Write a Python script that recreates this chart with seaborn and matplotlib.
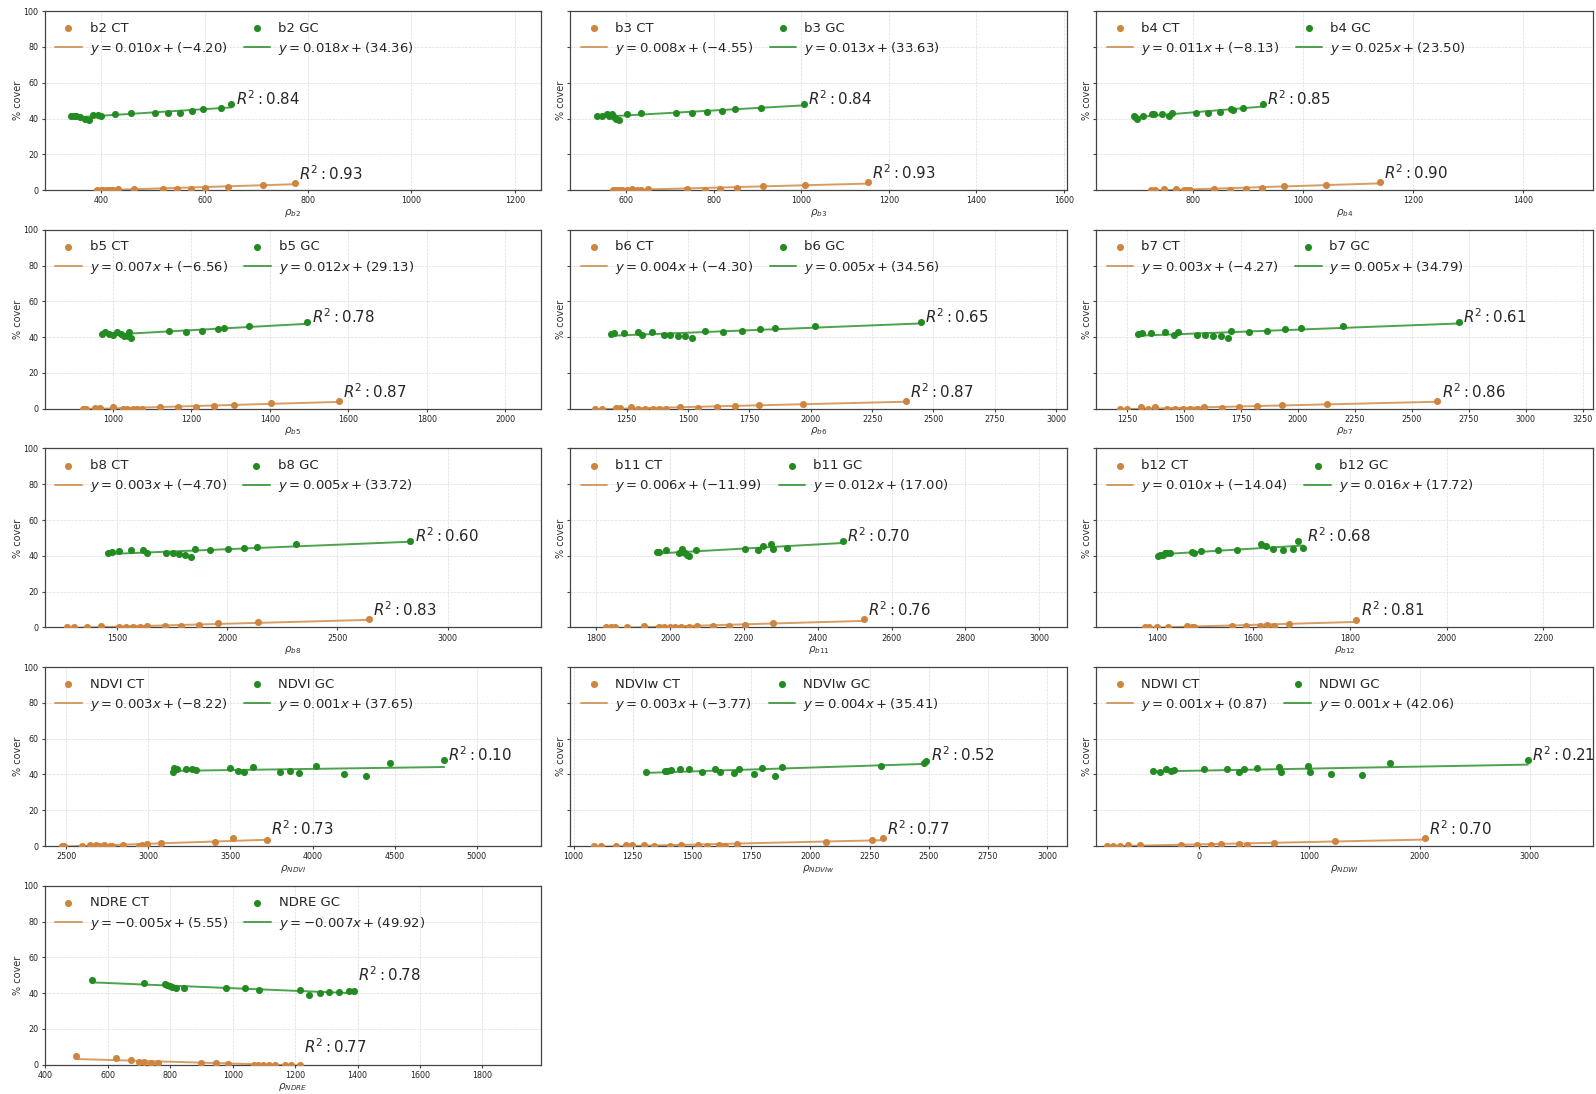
import numpy as np
import pandas as pd
import matplotlib
matplotlib.use("Agg")
import matplotlib.pyplot as plt
import seaborn as sns
from matplotlib.ticker import MultipleLocator

# ---------------- data ----------------
b2_ct_x = [393, 399, 404, 411, 418, 424, 432, 463, 520, 547, 573, 600, 645, 714, 775]
b2_ct_y = [0.1, 0.2, 0.1, 0.3, 0.2, 0.1, 0.5, 0.4, 0.8, 0.5, 0.8, 1.1, 2.0, 3.0, 4.1]
b2_gc_x = [341, 347, 351, 360, 368, 377, 385, 394, 400, 427, 458, 505, 529, 552, 576, 598, 632, 652]
b2_gc_y = [41.2, 41.2, 41.2, 40.8, 40.0, 39.2, 42.1, 42.1, 41.4, 42.5, 43.0, 43.0, 43.0, 43.3, 44.2, 45.1, 45.8, 48.1]

b3_ct_x = [570, 576, 583, 590, 603, 613, 624, 633, 649, 740, 780, 814, 853, 913, 1008, 1153]
b3_ct_y = [0.1, 0.1, 0.2, 0.1, 0.2, 0.4, 0.2, 0.3, 0.5, 0.8, 0.3, 0.6, 1.2, 2.1, 3.0, 4.3]
b3_gc_x = [534, 546, 556, 562, 568, 572, 578, 584, 603, 635, 715, 751, 785, 820, 848, 909, 1006]
b3_gc_y = [41.3, 41.3, 42.3, 41.5, 42.3, 40.8, 40.0, 39.3, 42.6, 43.2, 43.2, 43.2, 43.6, 44.3, 45.3, 46.0, 48.2]

b4_ct_x = [725, 732, 747, 770, 785, 790, 795, 839, 868, 896, 925, 966, 1042, 1140]
b4_ct_y = [0.1, 0.1, 0.4, 0.4, 0.2, 0.2, 0.1, 0.8, 0.3, 0.8, 1.2, 2.1, 3.0, 4.3]
b4_gc_x = [693, 696, 699, 709, 726, 729, 744, 757, 762, 806, 827, 850, 869, 873, 891, 927]
b4_gc_y = [41.3, 40.8, 39.5, 41.3, 42.3, 42.3, 42.6, 41.3, 43.0, 43.2, 43.2, 43.6, 45.3, 44.5, 46.0, 48.2]

b5_ct_x = [924, 931, 955, 966, 999, 1026, 1037, 1050, 1061, 1075, 1121, 1166, 1212, 1257, 1308, 1404, 1577]
b5_ct_y = [0.1, 0.1, 0.2, 0.5, 1.0, 0.1, 0.1, 0.1, 0.1, 0.1, 0.9, 0.7, 1.0, 1.7, 2.3, 3.0, 4.3]
b5_gc_x = [971, 981, 991, 1001, 1011, 1020, 1028, 1039, 1042, 1046, 1143, 1186, 1226, 1268, 1284, 1348, 1496]
b5_gc_y = [42.0, 43.0, 41.5, 41.1, 43.0, 41.9, 40.9, 40.9, 43.0, 39.6, 43.3, 43.0, 43.5, 44.3, 45.0, 46.3, 48.2]

b6_ct_x = [1120, 1148, 1205, 1222, 1268, 1297, 1325, 1356, 1380, 1410, 1467, 1542, 1618, 1693, 1789, 1968, 2387]
b6_ct_y = [0.1, 0.1, 0.5, 0.2, 0.8, 0.1, 0.1, 0.1, 0.1, 0.1, 0.8, 0.5, 0.7, 1.6, 2.2, 2.9, 4.2]
b6_gc_x = [1188, 1200, 1239, 1295, 1314, 1353, 1401, 1428, 1457, 1488, 1516, 1568, 1642, 1719, 1794, 1854, 2016, 2449]
b6_gc_y = [41.5, 42.2, 42.6, 43.0, 41.1, 43.0, 41.1, 41.1, 40.9, 40.4, 39.6, 43.3, 43.0, 43.3, 44.3, 45.0, 46.5, 48.2]

b7_ct_x = [1218, 1250, 1313, 1341, 1374, 1428, 1462, 1495, 1527, 1559, 1589, 1666, 1743, 1819, 1929, 2129, 2612]
b7_ct_y = [0.1, 0.1, 0.8, 0.1, 0.8, 0.1, 0.1, 0.1, 0.1, 0.1, 0.8, 0.3, 0.7, 1.5, 2.0, 2.8, 4.3]
b7_gc_x = [1298, 1316, 1355, 1418, 1457, 1476, 1559, 1594, 1629, 1663, 1695, 1708, 1786, 1866, 1943, 2012, 2199, 2705]
b7_gc_y = [41.5, 42.2, 42.6, 43.0, 41.1, 43.0, 41.1, 41.1, 40.9, 40.4, 39.6, 43.3, 43.0, 43.3, 44.3, 45.0, 46.5, 48.2]

b8_ct_x = [1275, 1304, 1362, 1426, 1510, 1540, 1573, 1604, 1636, 1717, 1790, 1872, 1959, 2141, 2644]
b8_ct_y = [0.1, 0.2, 0.3, 0.8, 0.1, 0.1, 0.1, 0.1, 0.8, 0.6, 1.0, 1.5, 2.3, 2.8, 4.5]
b8_gc_x = [1460, 1476, 1510, 1565, 1619, 1635, 1720, 1753, 1782, 1810, 1836, 1853, 1924, 2003, 2074, 2133, 2312, 2831]
b8_gc_y = [41.7, 42.2, 42.6, 43.2, 43.2, 41.3, 41.3, 41.3, 41.1, 40.6, 39.4, 43.6, 43.2, 43.6, 44.5, 45.2, 46.5, 48.4]

b11_ct_x = [1827, 1839, 1851, 1884, 1928, 1970, 1984, 2000, 2014, 2029, 2050, 2073, 2116, 2159, 2204, 2279, 2524]
b11_ct_y = [0.1, 0.1, 0.1, 0.2, 0.8, 0.1, 0.1, 0.1, 0.1, 0.1, 0.2, 0.8, 0.6, 0.9, 1.6, 2.7, 4.5]
b11_gc_x = [1965, 1970, 1989, 2024, 2031, 2036, 2040, 2046, 2050, 2070, 2202, 2239, 2251, 2272, 2279, 2316, 2468]
b11_gc_y = [42.2, 42.2, 43.0, 41.7, 43.6, 42.1, 41.3, 40.7, 39.8, 43.2, 43.7, 43.2, 45.4, 46.7, 43.7, 44.5, 48.4]

b12_ct_x = [1376, 1385, 1401, 1424, 1462, 1472, 1477, 1555, 1584, 1613, 1629, 1642, 1674, 1813]
b12_ct_y = [0.1, 0.3, 0.1, 0.3, 0.8, 0.3, 0.2, 0.6, 0.6, 0.8, 1.6, 1.0, 2.0, 4.4]
b12_gc_x = [1403, 1407, 1412, 1417, 1422, 1428, 1472, 1477, 1492, 1527, 1565, 1615, 1627, 1640, 1662, 1682, 1693, 1703]
b12_gc_y = [39.8, 40.2, 40.7, 41.3, 41.5, 41.5, 42.2, 41.7, 42.8, 43.2, 43.2, 46.7, 45.4, 43.7, 43.2, 43.7, 48.4, 44.5]

ndvi_ct_x = [2474, 2485, 2598, 2645, 2683, 2700, 2730, 2768, 2780, 2847, 2942, 2960, 2989, 3074, 3406, 3516, 3722]
ndvi_ct_y = [0.1, 0.1, 0.1, 0.8, 0.8, 0.1, 0.8, 0.1, 0.1, 0.6, 0.1, 0.3, 1.0, 1.5, 2.4, 4.3, 3.3]
ndvi_gc_x = [3151, 3155, 3176, 3229, 3265, 3287, 3495, 3548, 3584, 3640, 3803, 3863, 3920, 4020, 4192, 4324, 4473, 4802]
ndvi_gc_y = [41.1, 43.5, 43.0, 43.0, 43.0, 42.4, 43.7, 42.0, 41.1, 44.1, 41.3, 41.7, 40.7, 45.0, 40.2, 39.4, 46.3, 48.0]

ndviw_ct_x = [1085, 1114, 1178, 1222, 1247, 1298, 1339, 1408, 1452, 1525, 1565, 1613, 1638, 1691, 2065, 2262, 2307]
ndviw_ct_y = [0.1, 0.1, 0.1, 0.3, 0.5, 0.5, 0.1, 0.1, 0.5, 0.5, 0.1, 0.8, 0.2, 1.2, 2.3, 3.4, 4.4]
ndviw_gc_x = [1307, 1386, 1393, 1412, 1448, 1486, 1543, 1596, 1618, 1676, 1697, 1764, 1794, 1851, 1882, 2300, 2482, 2490]
ndviw_gc_y = [41.1, 41.7, 41.9, 42.4, 42.8, 42.8, 41.1, 43.3, 41.1, 40.7, 43.0, 40.2, 43.7, 39.4, 44.1, 45.0, 46.3, 47.8]

ndwi_ct_x = [-840, -785, -720, -646, -535, -166, -18, 111, 203, 360, 434, 683, 1237, 2050]
ndwi_ct_y = [0.1, 0.1, 0.1, 0.5, 0.8, 0.8, 0.5, 0.7, 1.0, 1.0, 0.5, 1.7, 2.8, 4.3]
ndwi_gc_x = [-415, -351, -305, -258, -231, 46, 249, 360, 406, 526, 729, 739, 988, 1006, 1200, 1477, 1736, 2982]
ndwi_gc_y = [42.2, 41.3, 43.0, 42.2, 42.6, 43.0, 43.0, 41.3, 43.0, 43.5, 44.1, 41.3, 45.0, 41.1, 40.5, 39.5, 46.3, 48.0]

ndre_ct_x = [497, 627, 674, 699, 717, 738, 762, 898, 945, 986, 1069, 1080, 1098, 1117, 1137, 1167, 1187, 1214]
ndre_ct_y = [4.6, 3.5, 2.6, 1.7, 1.3, 0.9, 0.7, 0.9, 0.9, 0.5, 0.1, 0.1, 0.1, 0.1, 0.1, 0.1, 0.1, 0.1]
ndre_gc_x = [549, 717, 783, 791, 798, 807, 817, 845, 979, 1038, 1083, 1214, 1246, 1279, 1309, 1341, 1374, 1389]
ndre_gc_y = [47.3, 45.9, 45.0, 44.4, 43.7, 43.5, 42.6, 42.8, 42.8, 42.6, 42.0, 41.6, 39.1, 40.0, 40.7, 40.7, 41.1, 40.9]

band_names = ["b2", "b3", "b4", "b5", "b6", "b7", "b8", "b11", "b12", "NDVI", "NDVIw", "NDWI", "NDRE"]

# reported fit coefficients and R^2 (legend / annotation text)
ct_slope = [0.010, 0.008, 0.011, 0.007, 0.004, 0.003, 0.003, 0.006, 0.010, 0.003, 0.003, 0.001, -0.005]
ct_icpt = [-4.20, -4.55, -8.13, -6.56, -4.30, -4.27, -4.70, -11.99, -14.04, -8.22, -3.77, 0.87, 5.55]
gc_slope = [0.018, 0.013, 0.025, 0.012, 0.005, 0.005, 0.005, 0.012, 0.016, 0.001, 0.004, 0.001, -0.007]
gc_icpt = [34.36, 33.63, 23.50, 29.13, 34.56, 34.79, 33.72, 17.00, 17.72, 37.65, 35.41, 42.06, 49.92]
ct_r2 = [0.93, 0.93, 0.90, 0.87, 0.87, 0.86, 0.83, 0.76, 0.81, 0.73, 0.77, 0.70, 0.77]
gc_r2 = [0.84, 0.84, 0.85, 0.78, 0.65, 0.61, 0.60, 0.70, 0.68, 0.10, 0.52, 0.21, 0.78]

# axis ranges and tick steps per panel
x_min = [291, 473, 625, 826, 1021, 1116, 1172, 1730, 1275, 2368, 987, -933, 398]
x_max = [1251, 1607, 1526, 2092, 3044, 3294, 3424, 3075, 2302, 5393, 3084, 3572, 1988]
x_step = [200, 200, 200, 200, 250, 250, 500, 200, 200, 500, 250, 1000, 200]

panels = [
    (b2_ct_x, b2_ct_y, b2_gc_x, b2_gc_y),
    (b3_ct_x, b3_ct_y, b3_gc_x, b3_gc_y),
    (b4_ct_x, b4_ct_y, b4_gc_x, b4_gc_y),
    (b5_ct_x, b5_ct_y, b5_gc_x, b5_gc_y),
    (b6_ct_x, b6_ct_y, b6_gc_x, b6_gc_y),
    (b7_ct_x, b7_ct_y, b7_gc_x, b7_gc_y),
    (b8_ct_x, b8_ct_y, b8_gc_x, b8_gc_y),
    (b11_ct_x, b11_ct_y, b11_gc_x, b11_gc_y),
    (b12_ct_x, b12_ct_y, b12_gc_x, b12_gc_y),
    (ndvi_ct_x, ndvi_ct_y, ndvi_gc_x, ndvi_gc_y),
    (ndviw_ct_x, ndviw_ct_y, ndviw_gc_x, ndviw_gc_y),
    (ndwi_ct_x, ndwi_ct_y, ndwi_gc_x, ndwi_gc_y),
    (ndre_ct_x, ndre_ct_y, ndre_gc_x, ndre_gc_y),
]

CT_COLOR = "#CD853F"
GC_COLOR = "#228B22"

# ---------------- style ----------------
sns.set_theme(style="white")
plt.rcParams["font.family"] = ["DejaVu Sans"]
plt.rcParams["mathtext.fontset"] = "dejavusans"
plt.rcParams["axes.edgecolor"] = "#444444"
plt.rcParams["axes.linewidth"] = 0.9


def eq_label(s, b):
    return f"$y = {s:.3f}x + ({b:.2f})$"


fig, axes = plt.subplots(5, 3, figsize=(15.96, 10.94), dpi=100, sharey=True)
fig.subplots_adjust(left=0.028, right=0.998, top=0.9898, bottom=0.0268,
                    wspace=0.059, hspace=0.222)

flat = axes.flatten()
for i, (name, (cx, cy, gx, gy)) in enumerate(zip(band_names, panels)):
    ax = flat[i]
    df_ct = pd.DataFrame({"x": cx, "y": cy})
    df_gc = pd.DataFrame({"x": gx, "y": gy})

    ax.grid(True, ls="--", lw=0.5, color="#dcdcdc")
    ax.set_axisbelow(True)

    sns.scatterplot(data=df_ct, x="x", y="y", color=CT_COLOR, s=26, linewidth=0,
                    ax=ax, zorder=3, legend=False)
    h_ct = ax.collections[-1]
    sns.regplot(data=df_ct, x="x", y="y", scatter=False, ci=None, truncate=True,
                ax=ax, color=CT_COLOR, line_kws=dict(lw=1.4, alpha=0.8, zorder=2))
    l_ct = ax.lines[-1]

    sns.scatterplot(data=df_gc, x="x", y="y", color=GC_COLOR, s=26, linewidth=0,
                    ax=ax, zorder=3, legend=False)
    h_gc = ax.collections[-1]
    sns.regplot(data=df_gc, x="x", y="y", scatter=False, ci=None, truncate=True,
                ax=ax, color=GC_COLOR, line_kws=dict(lw=1.4, alpha=0.8, zorder=2))
    l_gc = ax.lines[-1]

    ax.legend([h_ct, l_ct, h_gc, l_gc],
              [f"{name} CT", eq_label(ct_slope[i], ct_icpt[i]),
               f"{name} GC", eq_label(gc_slope[i], gc_icpt[i])],
              ncol=2, loc="upper left", frameon=False, fontsize=9.5,
              scatterpoints=1, borderaxespad=0.4, columnspacing=1.25,
              handletextpad=0.6, labelspacing=0.4)

    # R^2 annotations placed next to the extreme of each series
    ax.annotate(f"$R^2: {ct_r2[i]:.2f}$", xy=(max(cx), max(cy)), xytext=(3, 2.2),
                textcoords="offset points", fontsize=10.8, va="baseline", ha="left")
    ax.annotate(f"$R^2: {gc_r2[i]:.2f}$", xy=(max(gx), max(gy)), xytext=(3, -0.6),
                textcoords="offset points", fontsize=10.8, va="baseline", ha="left")

    ax.set_xlim(x_min[i], x_max[i])
    ax.set_ylim(0, 100)
    ax.xaxis.set_major_locator(MultipleLocator(x_step[i]))
    ax.yaxis.set_major_locator(MultipleLocator(20))
    ax.tick_params(axis="both", which="major", direction="out", length=2.5, width=0.8,
                   color="#444444", labelsize=5.8, pad=2, labelcolor="#222222")
    ax.tick_params(axis="both", bottom=True, left=True)
    ax.set_xlabel(f"$\\rho_{{{name}}}$", fontsize=7.5, labelpad=1, color="#333333")
    ax.set_ylabel("% cover", fontsize=7, labelpad=0.5, color="#333333")
    ax.yaxis.label.set_visible(True)

for j in range(len(band_names), len(flat)):
    fig.delaxes(flat[j])

fig.savefig("out.png", dpi=100)
